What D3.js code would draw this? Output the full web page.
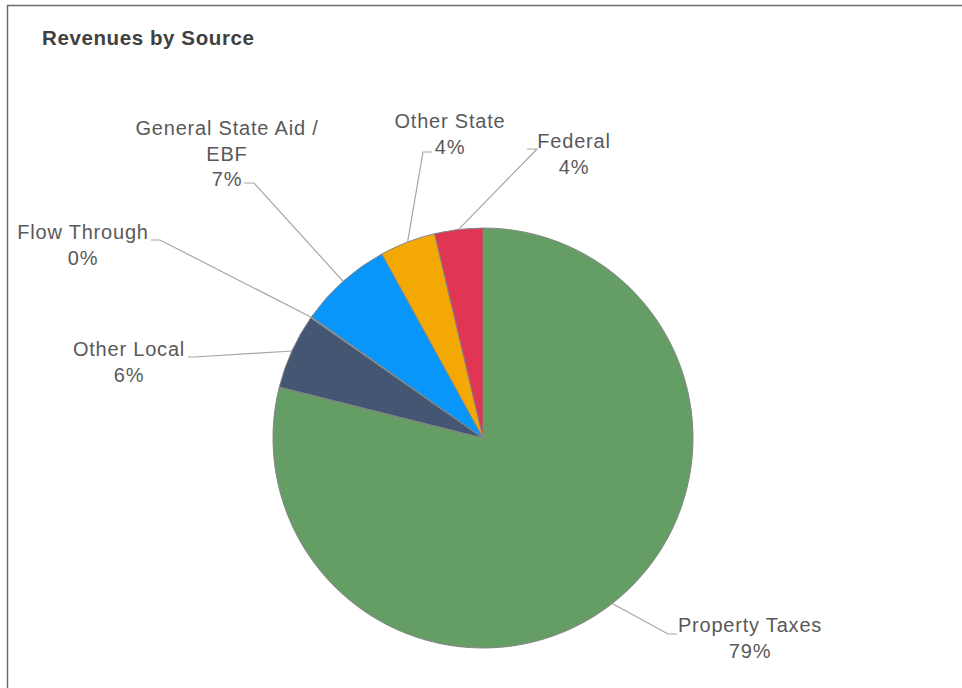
<!DOCTYPE html>
<html>
<head>
<meta charset="utf-8">
<script src="https://cdn.jsdelivr.net/npm/d3@7"></script>
<style>
  html, body { margin: 0; padding: 0; background: #fff; }
  svg { display: block; }
</style>
</head>
<body>
<svg id="chart" width="962" height="688"></svg>
<script>
// Revenue sources, in the order they run clockwise from 12 o'clock
const categories = ["Property Taxes", "Other Local", "Flow Through", "General State Aid / EBF", "Other State", "Federal"];
const shares = [78.9, 5.8, 0.1, 7.2, 4.3, 3.7];
const colors = ["#659e64", "#435672", "#8fb3e0", "#0996fa", "#f4a803", "#e03553"];

// Label text lines (the percentage line is appended from the data)
const labelLines = [["Property Taxes"], ["Other Local"], ["Flow Through"], ["General State Aid /", "EBF"], ["Other State"], ["Federal"]];
// Where each label block sits: centre x, first baseline y, elbow of the leader line
const labelLayout = [
  { cx: 750, y: 632, ex: 668, ey: 634, hx: 677 },
  { cx: 129, y: 356, ex: 195, ey: 357, hx: 188 },
  { cx: 83,  y: 239, ex: 160, ey: 240, hx: 151 },
  { cx: 227, y: 135, ex: 254, ey: 183, hx: 244 },
  { cx: 450, y: 128, ex: 423, ey: 152, hx: 432 },
  { cx: 574, y: 148, ex: 537, ey: 149, hx: 527 }
];

const svg = d3.select("#chart");
const W = 962, H = 688;
const cx = 483, cy = 438, R = 210;

// outer frame
svg.append("path")
  .attr("d", `M7.5,${H + 2} V5.5 H${W + 2}`)
  .attr("fill", "none")
  .attr("stroke", "#6b6b6b")
  .attr("stroke-width", 1.5);

svg.append("text")
  .attr("x", 42).attr("y", 45)
  .attr("font-family", "Liberation Sans, Arial, sans-serif")
  .attr("font-weight", "bold")
  .attr("font-size", 20.5)
  .attr("letter-spacing", 0.6)
  .attr("fill", "#404040")
  .text("Revenues by Source");

const total = d3.sum(shares);
const pie = d3.pie().sort(null).value(d => d)(shares);
const arc = d3.arc().innerRadius(0).outerRadius(R);

const g = svg.append("g").attr("transform", `translate(${cx},${cy})`);

g.selectAll("path.slice")
  .data(pie)
  .join("path")
  .attr("class", "slice")
  .attr("d", arc)
  .attr("fill", (d, i) => colors[i])
  .attr("stroke", "#858585")
  .attr("stroke-width", 1);

// leader lines: from the slice's mid-angle on the rim to an elbow, then a short horizontal run
pie.forEach((d, i) => {
  const a = (d.startAngle + d.endAngle) / 2;
  const sx = cx + R * Math.sin(a), sy = cy - R * Math.cos(a);
  const L = labelLayout[i];
  svg.append("polyline")
    .attr("points", `${sx},${sy} ${L.ex},${L.ey} ${L.hx},${L.ey}`)
    .attr("fill", "none")
    .attr("stroke", "#a6a6a6")
    .attr("stroke-width", 1.2);
});

// labels
pie.forEach((d, i) => {
  const L = labelLayout[i];
  const lines = labelLines[i].concat([Math.round(d.value / total * 100) + "%"]);
  const t = svg.append("text")
    .attr("text-anchor", "middle")
    .attr("font-family", "Liberation Sans, Arial, sans-serif")
    .attr("font-size", 20)
    .attr("letter-spacing", 0.8)
    .attr("fill", "#595959");
  lines.forEach((ln, k) => {
    t.append("tspan").attr("x", L.cx).attr("y", L.y + k * 25.5).text(ln);
  });
});
</script>
</body>
</html>
